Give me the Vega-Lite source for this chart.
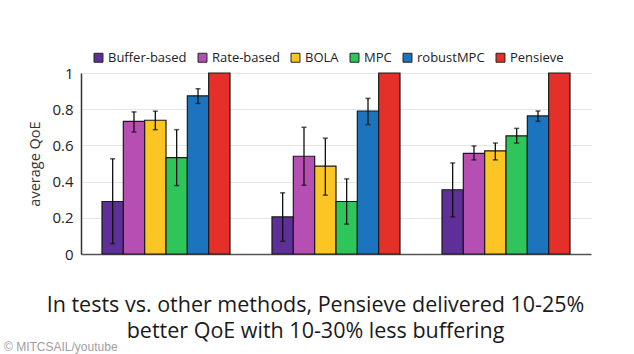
{
  "$schema": "https://vega.github.io/schema/vega-lite/v6.json",
  "width": 510,
  "height": 181,
  "autosize": {"type": "none"},
  "padding": {"left": 81, "top": 73, "right": 43, "bottom": 100},
  "background": "white",
  "config": {
    "font": "Open Sans",
    "view": {"stroke": null},
    "axis": {"labelFont": "Open Sans", "titleFont": "Open Sans", "labelOverlap": false},
    "axisY": {"labelOverlap": false, "labelBound": false}
  },
  "title": {
    "text": "© MITCSAIL/youtube",
    "orient": "bottom",
    "anchor": "start",
    "frame": "group",
    "dx": -77,
    "offset": 0,
    "font": "Liberation Sans",
    "fontSize": 12,
    "fontWeight": "normal",
    "color": "#a0a0a0"
  },
  "data": {
    "values": [
      {"group": "A", "method": "Buffer-based", "qoe": 0.29, "lo": 0.057, "hi": 0.526},
      {"group": "A", "method": "Rate-based", "qoe": 0.733, "lo": 0.674, "hi": 0.785},
      {"group": "A", "method": "BOLA", "qoe": 0.739, "lo": 0.687, "hi": 0.789},
      {"group": "A", "method": "MPC", "qoe": 0.532, "lo": 0.378, "hi": 0.687},
      {"group": "A", "method": "robustMPC", "qoe": 0.874, "lo": 0.832, "hi": 0.913},
      {"group": "A", "method": "Pensieve", "qoe": 1.0},
      {"group": "B", "method": "Buffer-based", "qoe": 0.205, "lo": 0.07, "hi": 0.338},
      {"group": "B", "method": "Rate-based", "qoe": 0.54, "lo": 0.38, "hi": 0.70},
      {"group": "B", "method": "BOLA", "qoe": 0.486, "lo": 0.325, "hi": 0.64},
      {"group": "B", "method": "MPC", "qoe": 0.29, "lo": 0.165, "hi": 0.415},
      {"group": "B", "method": "robustMPC", "qoe": 0.79, "lo": 0.715, "hi": 0.86},
      {"group": "B", "method": "Pensieve", "qoe": 1.0},
      {"group": "C", "method": "Buffer-based", "qoe": 0.355, "lo": 0.205, "hi": 0.503},
      {"group": "C", "method": "Rate-based", "qoe": 0.556, "lo": 0.52, "hi": 0.597},
      {"group": "C", "method": "BOLA", "qoe": 0.57, "lo": 0.52, "hi": 0.613},
      {"group": "C", "method": "MPC", "qoe": 0.653, "lo": 0.613, "hi": 0.694},
      {"group": "C", "method": "robustMPC", "qoe": 0.763, "lo": 0.733, "hi": 0.79},
      {"group": "C", "method": "Pensieve", "qoe": 1.0}
    ]
  },
  "encoding": {
    "x": {
      "field": "group",
      "type": "nominal",
      "scale": {"paddingInner": 0.247, "paddingOuter": 0.1235},
      "axis": {
        "labels": false,
        "ticks": false,
        "domainColor": "#555555",
        "domainWidth": 1.5,
        "title": ["In tests vs. other methods, Pensieve delivered 10-25%", "better QoE with 10-30% less buffering"],
        "titleFont": "Open Sans",
        "titleFontSize": 21.5,
        "titleFontWeight": "normal",
        "titleColor": "#1a1a1a",
        "titleLineHeight": 26,
        "titleBaseline": "top",
        "titleAnchor": "middle",
        "titlePadding": 40,
        "titleX": 234
      }
    },
    "xOffset": {
      "field": "method",
      "type": "nominal",
      "sort": ["Buffer-based", "Rate-based", "BOLA", "MPC", "robustMPC", "Pensieve"],
      "scale": {"paddingInner": 0, "paddingOuter": 0}
    }
  },
  "layer": [
    {
      "mark": {"type": "bar", "stroke": "#1a1a1a", "strokeWidth": 1.2},
      "encoding": {
        "y": {
          "field": "qoe",
          "type": "quantitative",
          "scale": {"domain": [0, 1]},
          "axis": {
            "title": "average QoE",
            "titleFontSize": 14.5,
            "titleFontWeight": "normal",
            "titleColor": "#333333",
            "titlePadding": 9,
            "values": [0, 0.2, 0.4, 0.6, 0.8, 1],
            "labelOverlap": false,
            "labelExpr": "datum.value == 0 || datum.value == 1 ? format(datum.value, 'd') : format(datum.value, '.1f')",
            "labelFontSize": 15,
            "labelColor": "#222222",
            "labelPadding": 8,
            "ticks": false,
            "domainColor": "#333333",
            "domainWidth": 1.5,
            "gridColor": "#e6e6e6",
            "gridWidth": 1.2
          }
        },
        "color": {
          "field": "method",
          "type": "nominal",
          "sort": ["Buffer-based", "Rate-based", "BOLA", "MPC", "robustMPC", "Pensieve"],
          "scale": {
            "domain": ["Buffer-based", "Rate-based", "BOLA", "MPC", "robustMPC", "Pensieve"],
            "range": ["#5e2f98", "#b54fb3", "#fbc524", "#2ec55a", "#1c74bf", "#e5302a"]
          },
          "legend": {
            "title": null,
            "orient": "none",
            "direction": "horizontal",
            "legendX": 11,
            "legendY": -22,
            "symbolType": "square",
            "symbolSize": 80,
            "symbolStrokeColor": "#222222",
            "symbolStrokeWidth": 1,
            "symbolOpacity": 1,
            "labelFontSize": 13,
            "labelColor": "#222222",
            "labelOffset": 3,
            "columnPadding": 9
          }
        }
      }
    },
    {
      "mark": {"type": "rule", "color": "#111111", "strokeWidth": 1.3},
      "encoding": {
        "y": {"field": "lo", "type": "quantitative", "axis": {"labelOverlap": false, "values": [0, 0.2, 0.4, 0.6, 0.8, 1]}},
        "y2": {"field": "hi"}
      }
    },
    {
      "mark": {"type": "tick", "color": "#111111", "thickness": 1.5, "size": 5},
      "encoding": {"y": {"field": "lo", "type": "quantitative", "axis": {"labelOverlap": false, "values": [0, 0.2, 0.4, 0.6, 0.8, 1]}}}
    },
    {
      "mark": {"type": "tick", "color": "#111111", "thickness": 1.5, "size": 5},
      "encoding": {"y": {"field": "hi", "type": "quantitative", "axis": {"labelOverlap": false, "values": [0, 0.2, 0.4, 0.6, 0.8, 1]}}}
    }
  ]
}
